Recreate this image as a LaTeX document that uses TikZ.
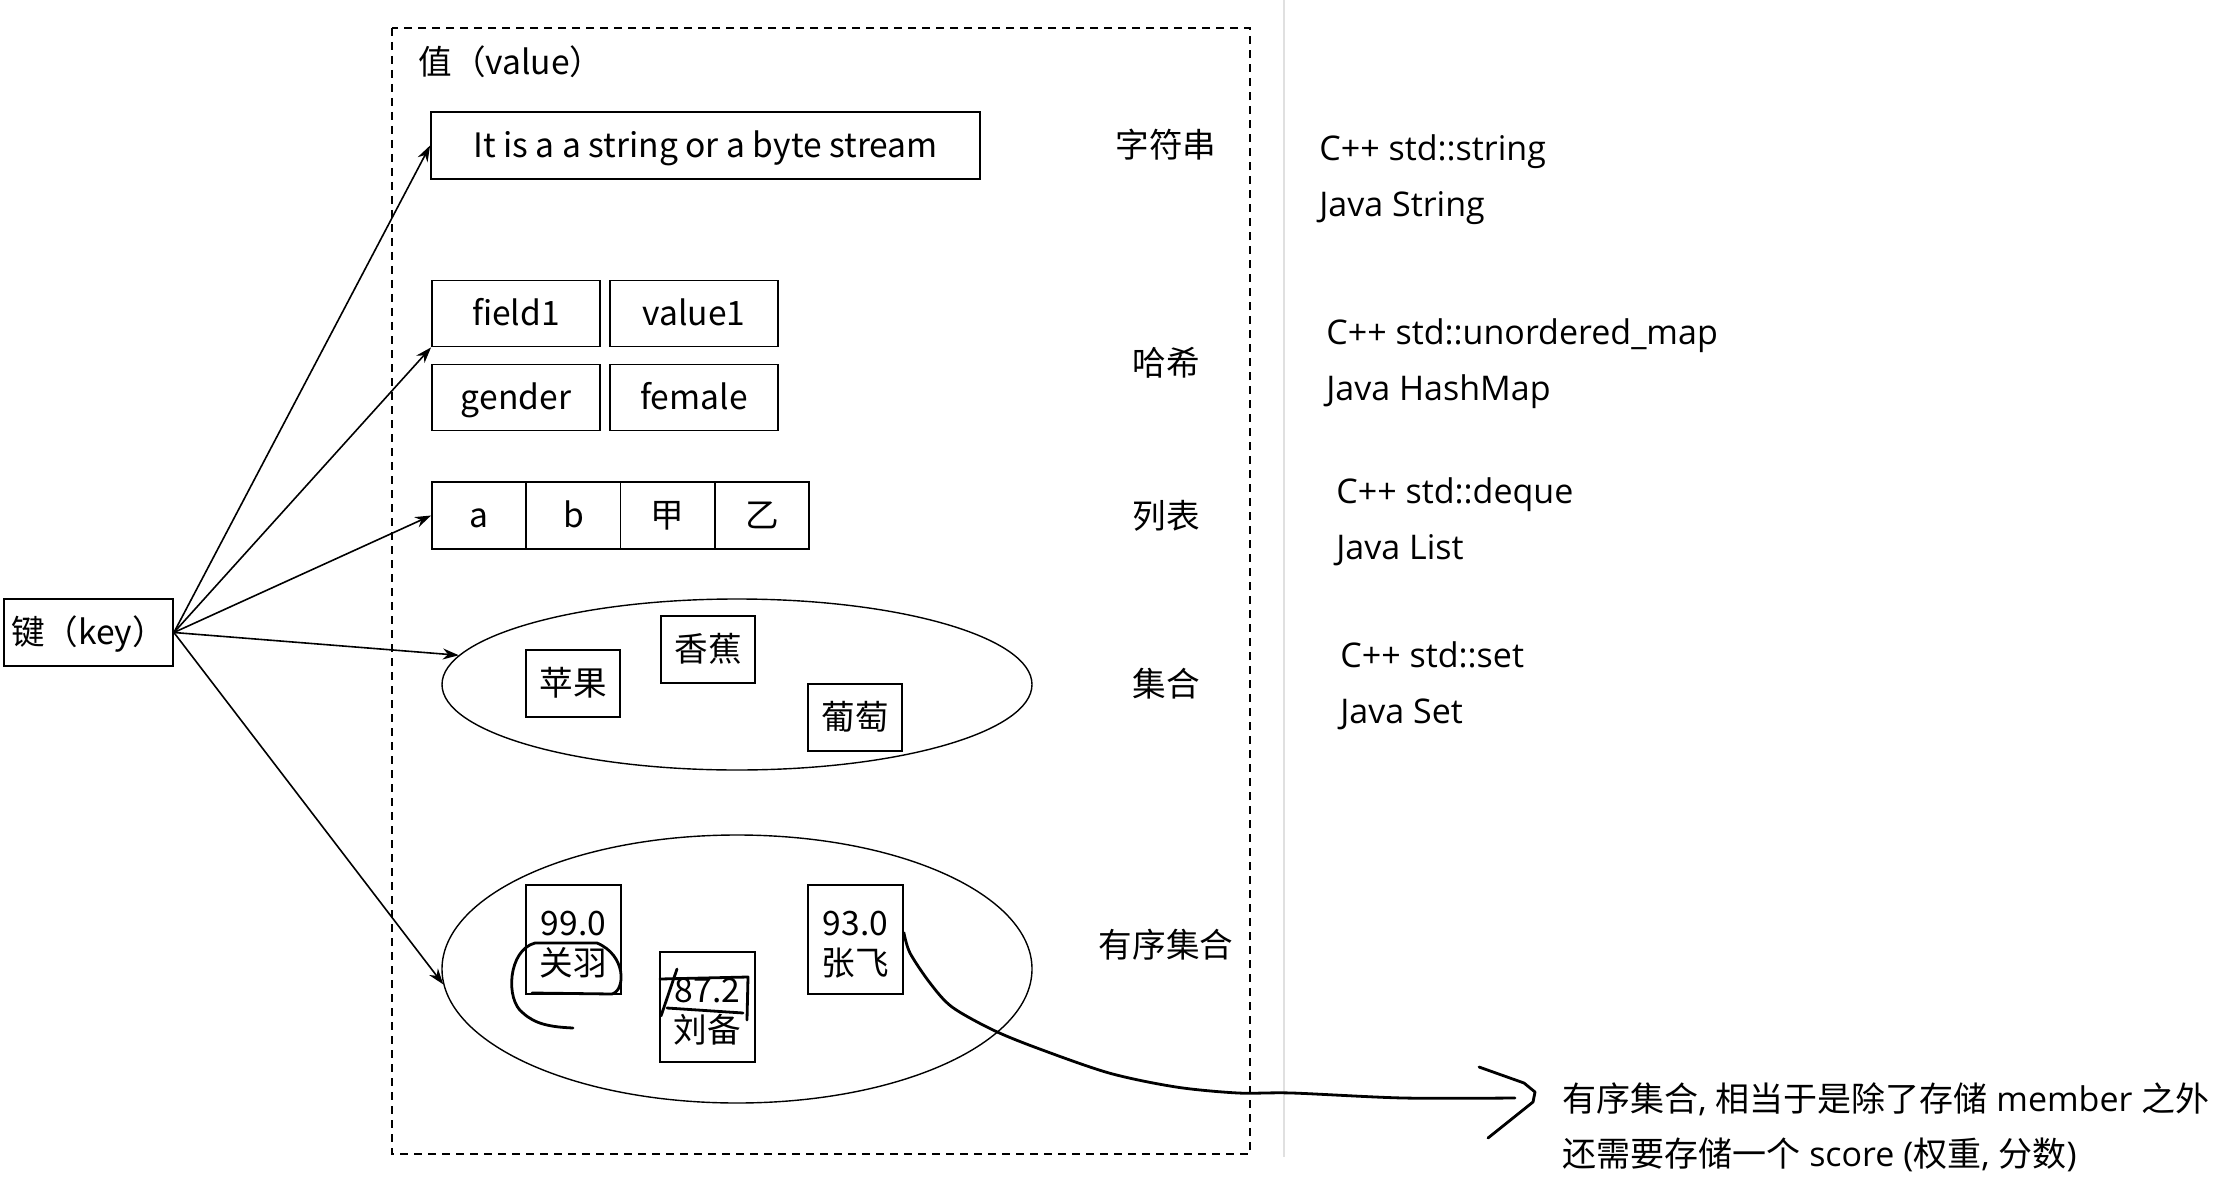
\documentclass[tikz,border=0pt]{standalone}
\usepackage{fontspec}
\setmainfont{Noto Sans CJK SC}
\newfontfamily\latfont{Open Sans}
\usetikzlibrary{shapes.geometric,arrows.meta}

\begin{document}
\begin{tikzpicture}[x=0.5pt,y=-0.5pt]
\tikzstyle{cell}=[rectangle,draw,line width=0.9pt,inner sep=0pt,minimum width=84pt,minimum height=33pt,text height=14pt,text depth=2pt,font=\fontsize{16.8}{20}\selectfont]
\tikzstyle{pair}=[cell,minimum width=47.5pt,minimum height=54.5pt,text height=,text depth=,align=center]
\tikzstyle{bag}=[ellipse,draw,line width=0.7pt,inner sep=0pt,minimum width=295pt]
\tikzstyle{tag}=[font=\fontsize{16.8}{21.5}\selectfont]
\tikzstyle{impl}=[anchor=west,align=left,inner sep=0pt,font=\latfont\fontsize{17}{28}\selectfont]
\tikzstyle{link}=[line width=0.8pt,-{Stealth[length=8pt,width=5.5pt]}]
\tikzstyle{scribble}=[line width=1.4pt,line cap=round,line join=round]
\useasboundingbox (0,0) rectangle (2232,1182);
% value frame and divider
\draw[line width=0.8pt,dash pattern=on 4pt off 3pt] (392,28) rectangle (1250,1154);
\draw[black!12,line width=0.8pt] (1284,0) -- (1284,1157);
\node [tag,anchor=west,inner sep=0pt] (vlabel) at (418,62) {值（value）};
% string
\node [cell,minimum width=274.5pt,minimum height=33.5pt] (str) at (705.5,145.5) {It is a a string or a byte stream};
% hash
\node [cell] (f1) at (516,313.5) {field1};
\node [cell] (v1) at (694,313.5) {value1};
\node [cell] (gd) at (516,397.5) {gender};
\node [cell] (fm) at (694,397.5) {female};
% list
\node [cell,minimum width=47.1pt,minimum height=33.5pt] (l1) at (479.1,515.5) {a};
\node [cell,minimum width=47.1pt,minimum height=33.5pt] (l2) at (573.4,515.5) {b};
\node [cell,minimum width=47.1pt,minimum height=33.5pt] (l3) at (667.6,515.5) {甲};
\node [cell,minimum width=47.1pt,minimum height=33.5pt] (l4) at (761.9,515.5) {乙};
% set
\node [bag,minimum height=85.5pt] (set) at (737,684.5) {};
\node [cell,minimum width=47pt,minimum height=33.5pt] (apple) at (573,683.5) {苹果};
\node [cell,minimum width=47pt,minimum height=33.5pt] (banana) at (708,649.5) {香蕉};
\node [cell,minimum width=47pt,minimum height=33.5pt] (grape) at (855,717.5) {葡萄};
% sorted set
\node [bag,minimum height=134pt] (zset) at (737,969) {};
\node [pair] (gy) at (573.5,939.5) {\rule{0pt}{17pt}99.0\\关羽};
\node [pair,minimum height=55pt] (lb) at (707.5,1007) {\rule{0pt}{17pt}87.2\\刘备};
\node [pair] (zf) at (855.5,939.5) {\rule{0pt}{17pt}93.0\\张飞};
% type names
\node [tag] (tstr) at (1166,145) {字符串};
\node [tag] (thash) at (1166,363) {哈希};
\node [tag] (tlist) at (1166,516) {列表};
\node [tag] (tset) at (1166,684) {集合};
\node [tag] (tzset) at (1166,945) {有序集合};
% key
\node [cell,minimum width=84.5pt,minimum height=33.5pt] (key) at (88.5,632.5) {键（key）};
\draw [link] (key.east) -- (str.west);
\draw [link] (key.east) -- (f1.south west);
\draw [link] (key.east) -- (l1.west);
\draw [link] (key.east) -- (set.174);
\draw [link] (key.east) -- (zset.183);
% C++ / Java
\node [impl] (istr) at (1319,180) {C++ std::string\\Java String};
\node [impl] (ihash) at (1326,364) {C++ std::unordered\_map\\Java HashMap};
\node [impl] (ilist) at (1336,521.5) {C++ std::deque\\Java List};
\node [impl] (iset) at (1340,685.5) {C++ std::set\\Java Set};
% note
\node [tag,anchor=west,align=left,inner sep=0pt,font=\fontsize{17}{27.5}\selectfont] (note) at (1562,1127)
  {有序集合{\latfont, }相当于是除了存储{\latfont\ member }之外\\还需要存储一个{\latfont\ score (}权重{\latfont, }分数{\latfont)}};
% marks
\draw [scribble] (532,993) -- (612,994) .. controls (626,990) and (626,955) .. (597,943) -- (535,943)
  .. controls (508,950) and (505,1000) .. (523,1013) .. controls (535,1024) and (550,1027) .. (573,1028);
\draw [scribble] (677,969) -- (661,1016);
\draw [scribble] (660,979) -- (748,977) -- (747,1020);
\draw [scribble] (667,1008) -- (743,1013);
\coordinate (notetip) at (1515,1098);
\draw [scribble] plot [smooth] coordinates {(zf.8) (910,953) (930,983) (952,1007) (993,1030) (1037,1048) (1109,1073) (1176,1087) (1238,1093) (1292,1093) (1403,1098) (notetip)};
\draw [scribble] (1479,1067) -- (1524,1083) -- (1535,1092) -- (1533,1102) -- (1488,1138);
\end{tikzpicture}
\end{document}
